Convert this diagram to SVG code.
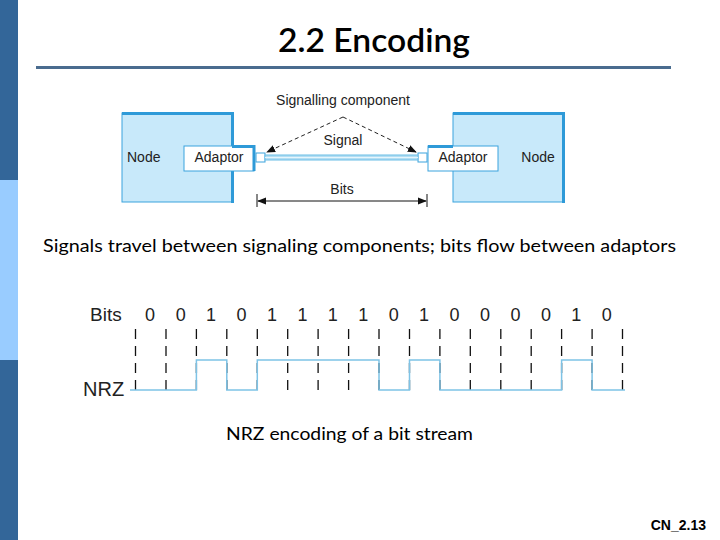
<svg xmlns="http://www.w3.org/2000/svg" width="720" height="540" viewBox="0 0 720 540">
<defs>
<style>
.ar{font-family:"Liberation Sans",Arial,sans-serif;fill:#222}
.cal{font-family:Lato,"Open Sans",sans-serif;fill:#000}
.node{fill:#C8E9FA;stroke:#3BA3DD;stroke-width:1}
.thick{stroke:#2E9AD8;stroke-width:3;fill:none}
.adp{fill:#fff;stroke:#3BA3DD;stroke-width:1}
.dash{stroke:#111;stroke-width:1.3;stroke-dasharray:10 7;fill:none}
.sig{stroke:#7EC3E6;stroke-width:1.5;fill:none}
.lead{stroke:#222;stroke-width:1;stroke-dasharray:4 3;fill:none}
</style>
<marker id="ah" viewBox="0 0 10 10" refX="9" refY="5" markerWidth="9" markerHeight="9" orient="auto-start-reverse" markerUnits="userSpaceOnUse">
<path d="M0,1 L10,5 L0,9 z" fill="#111"/>
</marker>
</defs>
<rect width="720" height="540" fill="#fff"/>
<rect x="0" y="0" width="18" height="180" fill="#336699"/>
<rect x="0" y="180" width="18" height="180" fill="#99CCFF"/>
<rect x="0" y="360" width="18" height="180" fill="#336699"/>
<text x="374" y="52" text-anchor="middle" class="cal" font-size="33" font-weight="600" textLength="192" lengthAdjust="spacingAndGlyphs">2.2 Encoding</text>
<rect x="36" y="66" width="635" height="3" fill="#4A6C8F"/>

<g id="node-left">
<rect class="node" x="122" y="113" width="110" height="89"/>
<path class="thick" d="M122,113.5 H232.5 V146 M232.5,171 V203"/>
<text class="ar" x="127" y="162" font-size="14">Node</text>
</g>
<g id="adaptor-left">
<rect class="adp" x="184" y="146" width="70" height="25"/>
<path class="thick" d="M232,146.5 H254 V171"/>
<text class="ar" x="219" y="162" font-size="14" text-anchor="middle">Adaptor</text>
<rect class="adp" x="256" y="153" width="9" height="9"/>
</g>
<g id="node-right">
<rect class="node" x="453" y="113" width="110" height="89"/>
<path class="thick" d="M453,113.5 H563.5 V203"/>
<text class="ar" x="538" y="162" font-size="14" text-anchor="middle">Node</text>
</g>
<g id="adaptor-right">
<rect class="adp" x="428" y="146" width="70" height="25"/>
<path class="thick" d="M428,146.5 H453"/>
<text class="ar" x="463" y="162" font-size="14" text-anchor="middle">Adaptor</text>
<rect class="adp" x="418" y="153" width="9" height="9"/>
</g>
<g id="connectors">
<rect x="265" y="155" width="153" height="5" fill="#B3DEF3" stroke="#6BBDE6" stroke-width="1"/>
<line x1="265" y1="157.5" x2="418" y2="157.5" stroke="#E6F5FC" stroke-width="1"/>
<path class="lead" d="M343,117 L267,152" marker-end="url(#ah)"/>
<path class="lead" d="M343,117 L416,152" marker-end="url(#ah)"/>
<line x1="258" y1="201" x2="426" y2="201" stroke="#111" stroke-width="1" marker-start="url(#ah)" marker-end="url(#ah)"/>
<line x1="257" y1="194" x2="257" y2="207" stroke="#111" stroke-width="1"/>
<line x1="427" y1="194" x2="427" y2="207" stroke="#111" stroke-width="1"/>
</g>
<text class="ar" x="343" y="105" font-size="14" text-anchor="middle">Signalling component</text>
<text class="ar" x="343" y="145" font-size="14" text-anchor="middle">Signal</text>
<text class="ar" x="342" y="194" font-size="14" text-anchor="middle">Bits</text>

<text class="cal" x="43" y="252" font-size="18" textLength="633" lengthAdjust="spacingAndGlyphs">Signals travel between signaling components; bits flow between adaptors</text>

<g id="nrz">
<text class="ar" x="90" y="321" font-size="19">Bits</text>
<text class="ar" x="83" y="396" font-size="20">NRZ</text>
<g class="ar" font-size="18" text-anchor="middle">
<text x="150" y="321">0</text><text x="180.7" y="321">0</text><text x="211.1" y="321">1</text><text x="241.5" y="321">0</text>
<text x="272" y="321">1</text><text x="302.4" y="321">1</text><text x="332.8" y="321">1</text><text x="363.3" y="321">1</text>
<text x="393.7" y="321">0</text><text x="424.1" y="321">1</text><text x="454.6" y="321">0</text><text x="485" y="321">0</text>
<text x="515.4" y="321">0</text><text x="545.9" y="321">0</text><text x="576.3" y="321">1</text><text x="606.7" y="321">0</text>
</g>
<path class="dash" d="M135.5,329 V391 M166,329 V391 M196.4,329 V391 M226.8,329 V391 M257.3,329 V391 M287.7,329 V391 M318.1,329 V391 M348.6,329 V391 M379,329 V391 M409.5,329 V391 M439.9,329 V391 M470.3,329 V391 M500.8,329 V391 M531.2,329 V391 M561.6,329 V391 M592.1,329 V391 M622.5,329 V391"/>
<path class="sig" d="M130,390 H196.4 V360 H226.8 V390 H257.3 V360 H379 V390 H409.5 V360 H439.9 V390 H561.6 V360 H592.1 V390 H625"/>
</g>
<text class="cal" x="226" y="440" font-size="18" textLength="247" lengthAdjust="spacingAndGlyphs">NRZ encoding of a bit stream</text>
<text x="706" y="530" font-family="'Liberation Sans',Arial,sans-serif" font-size="14" font-weight="bold" text-anchor="end">CN_2.13</text>
</svg>
